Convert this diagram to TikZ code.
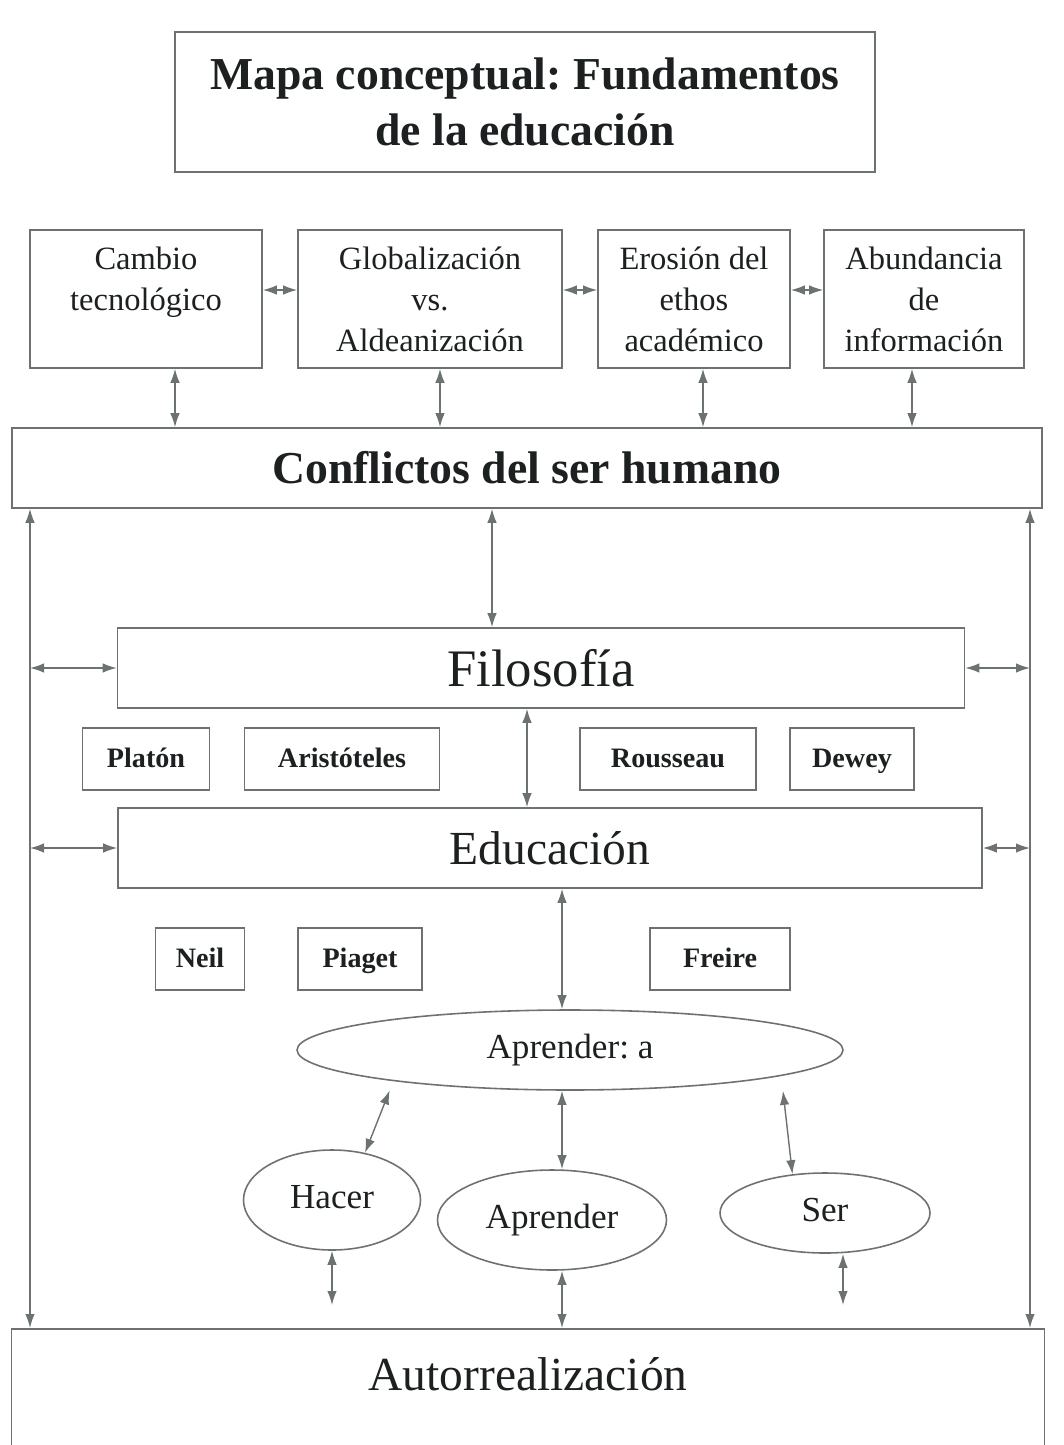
\documentclass[tikz,border=0pt]{standalone}
\usepackage{fontspec}
\setmainfont{Liberation Serif}
\usepackage{xcolor}
\usetikzlibrary{arrows.meta,shapes.geometric}
\definecolor{linegray}{RGB}{108,114,114}
\definecolor{inkdark}{RGB}{28,32,32}
\frenchspacing

\begin{document}
\begin{tikzpicture}[x=0.2mm,y=-0.2mm,
    box/.style={rectangle,draw=linegray,line width=0.9pt,text=inkdark,align=center,inner sep=0pt},
    topbox/.style={box,minimum height=27.6mm,font=\fontsize{18.5}{23.3}\selectfont},
    bar/.style={box,minimum height=16mm},
    namebox/.style={box,minimum height=12.4mm,text height=11pt,text depth=1.5pt,font=\bfseries\fontsize{16}{19}\selectfont},
    oval/.style={ellipse,draw=linegray,line width=0.9pt,text=inkdark,inner sep=0pt,text height=14pt,text depth=4pt,font=\fontsize{20}{24}\selectfont},
    arrow/.style={{Latex[length=2.8mm,width=1.9mm]}-{Latex[length=2.8mm,width=1.9mm]},draw=linegray,line width=0.8pt}
  ]
    \useasboundingbox (0,0) rectangle (1063,1445);
    \clip (0,0) rectangle (1063,1445);
    \fill[white] (0,0) rectangle (1063,1445);
    % title
    \node[box,minimum width=140mm,minimum height=28mm,font=\bfseries\fontsize{26}{32.3}\selectfont] (title) at (525,102) {Mapa conceptual: Fundamentos\\de la educación};
    % causes
    \node[topbox,minimum width=46.4mm] (cambio) at (146,299) {Cambio\\tecnológico\\\mbox{}};
    \node[topbox,minimum width=52.8mm] (glob) at (430,299) {Globalización\\vs.\\Aldeanización};
    \node[topbox,minimum width=38.4mm] (eros) at (694,299) {Erosión del\\ethos\\académico};
    \node[topbox,minimum width=40mm] (abund) at (924,299) {Abundancia\\de\\información};
    \node[bar,minimum width=206mm,font=\bfseries\fontsize{26}{31}\selectfont] (conf) at (527,468) {Conflictos del ser humano};
    % philosophy and education
    \node[bar,minimum width=169.4mm,font=\fontsize{30}{36}\selectfont] (filo) at (541,668) {Filosofía};
    \node[namebox,minimum width=25.4mm] (platon) at (146,759) {Platón};
    \node[namebox,minimum width=39mm] (arist) at (342,759) {Aristóteles};
    \node[namebox,minimum width=35.2mm] (rouss) at (668,759) {Rousseau};
    \node[namebox,minimum width=24.8mm] (dewey) at (852,759) {Dewey};
    \node[bar,minimum width=172.8mm,font=\fontsize{27}{32}\selectfont] (edu) at (550,848) {Educación};
    \node[namebox,minimum width=17.8mm] (neil) at (200,959) {Neil};
    \node[namebox,minimum width=24.8mm] (piaget) at (360,959) {Piaget};
    \node[namebox,minimum width=28mm] (freire) at (720,959) {Freire};
    % learning
    \node[oval,minimum width=109.2mm,minimum height=16mm] (apra) at (570,1050) {Aprender: a};
    \node[oval,minimum width=35.4mm,minimum height=20mm] (hacer) at (332,1200) {Hacer};
    \node[oval,minimum width=45.8mm,minimum height=20mm] (aprend) at (552,1220) {Aprender};
    \node[oval,minimum width=42mm,minimum height=16mm] (ser) at (825,1213) {Ser};
    \node[box,anchor=north,minimum width=206.6mm,inner ysep=5.8mm,font=\fontsize{27}{32}\selectfont] (auto) at (528,1328) {Autorrealización\\\rule{0pt}{16mm}};
    \coordinate (lft) at (30,0);
    \coordinate (rgt) at (1030,0);
    \coordinate (hacerend) at (332,1305);
    \coordinate (serend) at (843,1305);
    % connectors
    \draw[arrow] ([yshift=1.8mm]cambio.east) -- ([yshift=1.8mm]glob.west);
    \draw[arrow] ([yshift=1.8mm]glob.east) -- ([yshift=1.8mm]eros.west);
    \draw[arrow] ([yshift=1.8mm]eros.east) -- ([yshift=1.8mm]abund.west);
    \draw[arrow] (cambio.south -| 175,0) -- (conf.north -| 175,0);
    \draw[arrow] (glob.south -| 440,0) -- (conf.north -| 440,0);
    \draw[arrow] (eros.south -| 703,0) -- (conf.north -| 703,0);
    \draw[arrow] (abund.south -| 912,0) -- (conf.north -| 912,0);
    \draw[arrow] (conf.south -| lft) -- (auto.north -| lft);
    \draw[arrow] (conf.south -| rgt) -- (auto.north -| rgt);
    \draw[arrow] (conf.south -| 492,0) -- (filo.north -| 492,0);
    \draw[arrow] (filo.west -| lft) -- (filo.west);
    \draw[arrow] (filo.east) -- (filo.east -| rgt);
    \draw[arrow] (filo.south -| 527,0) -- (edu.north -| 527,0);
    \draw[arrow] (edu.west -| lft) -- (edu.west);
    \draw[arrow] (edu.east) -- (edu.east -| rgt);
    \draw[arrow] (edu.south -| 562,0) -- (apra.north -| 562,0);
    \draw[arrow,shorten <=2mm] (apra.190) -- (hacer.55);
    \draw[arrow] (apra.south -| 562,0) -- (aprend.north -| 562,0);
    \draw[arrow,shorten <=3mm] (apra.-7) -- (ser.130);
    \draw[arrow] (hacer.south) -- (hacerend);
    \draw[arrow] (aprend.south -| 562,0) -- (auto.north -| 562,0);
    \draw[arrow] (ser.south -| serend) -- (serend);
  \end{tikzpicture}
\end{document}
